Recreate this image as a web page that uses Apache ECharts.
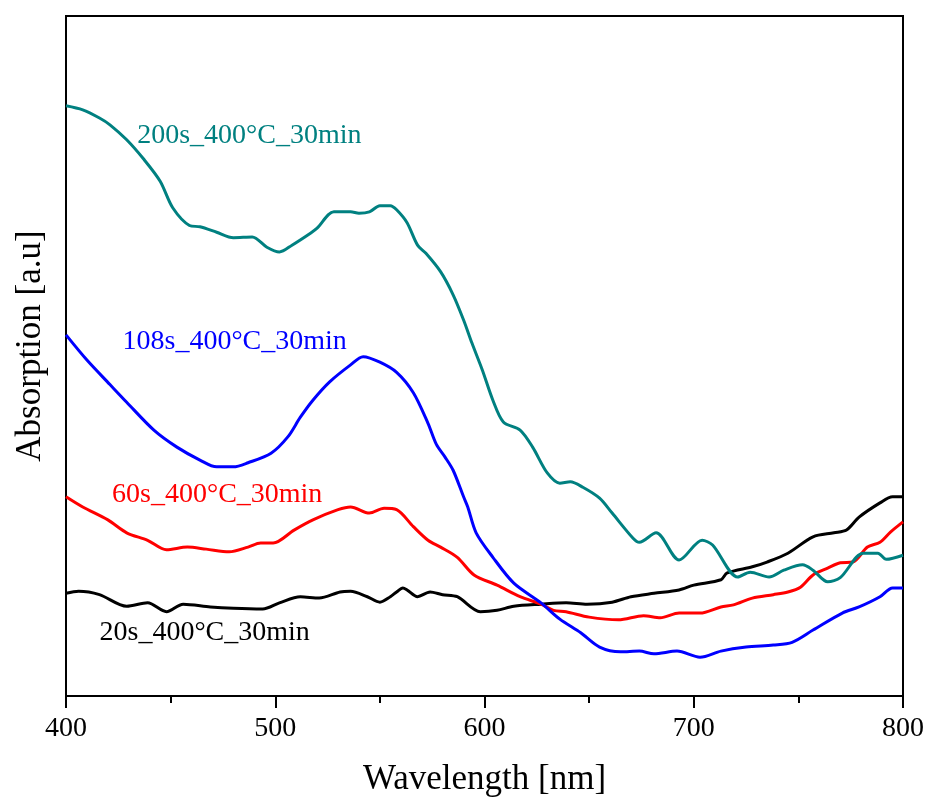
<!DOCTYPE html>
<html>
<head>
<meta charset="utf-8">
<script src="https://cdn.jsdelivr.net/npm/echarts@6/dist/echarts.min.js"></script>
<style>html,body{margin:0;padding:0;background:#fff;}#c{width:928px;height:805px;}</style>
</head>
<body>
<div id="c"></div>
<script>
// Wavelength (nm) and absorption (a.u.) pairs
var s200 = [[400,0.868],[408,0.862],[416,0.850],[421,0.840],[429,0.818],[437,0.790],[445,0.757],[451,0.718],[459,0.692],[464,0.690],[472,0.682],[480,0.674],[489,0.675],[496,0.660],[502,0.653],[508,0.663],[517,0.681],[520,0.688],[528,0.712],[536,0.712],[540,0.710],[545,0.712],[550,0.721],[555,0.721],[558,0.715],[563,0.696],[568,0.663],[572,0.651],[579,0.624],[585,0.590],[590,0.553],[594,0.519],[599,0.479],[604,0.435],[609,0.403],[617,0.391],[623,0.366],[630,0.328],[636,0.313],[641,0.315],[647,0.307],[655,0.291],[661,0.269],[671,0.232],[674,0.226],[682,0.240],[693,0.200],[704,0.229],[709,0.222],[721,0.175],[727,0.182],[736,0.175],[743,0.185],[752,0.193],[757,0.185],[764,0.168],[770,0.174],[781,0.210],[788,0.210],[792,0.201],[800,0.207]];
var s108 = [[400,0.531],[410,0.494],[421,0.458],[429,0.432],[442,0.391],[453,0.366],[464,0.347],[472,0.337],[480,0.337],[487,0.343],[498,0.357],[506,0.381],[512,0.410],[518,0.435],[526,0.462],[536,0.487],[542,0.499],[550,0.491],[558,0.476],[566,0.446],[573,0.401],[577,0.370],[581,0.352],[585,0.332],[590,0.293],[592,0.278],[596,0.240],[604,0.204],[614,0.166],[627,0.137],[636,0.113],[646,0.093],[655,0.072],[665,0.065],[674,0.066],[681,0.062],[692,0.066],[703,0.057],[713,0.066],[725,0.072],[738,0.075],[747,0.079],[757,0.097],[771,0.122],[779,0.131],[789,0.146],[795,0.159],[800,0.159]];
var s60 = [[400,0.293],[408,0.278],[420,0.259],[429,0.240],[439,0.229],[448,0.215],[458,0.219],[467,0.216],[478,0.212],[487,0.219],[493,0.225],[499,0.225],[509,0.244],[518,0.259],[530,0.274],[536,0.278],[545,0.269],[552,0.276],[558,0.274],[566,0.249],[573,0.229],[579,0.219],[587,0.204],[595,0.178],[606,0.163],[617,0.146],[627,0.135],[633,0.126],[639,0.124],[650,0.116],[664,0.112],[676,0.118],[684,0.115],[693,0.122],[703,0.122],[713,0.131],[719,0.134],[728,0.144],[738,0.149],[745,0.153],[751,0.160],[757,0.178],[764,0.188],[770,0.196],[776,0.197],[783,0.219],[789,0.226],[794,0.241],[800,0.256]];
var s20 = [[400,0.151],[406,0.154],[416,0.149],[429,0.132],[439,0.137],[448,0.124],[456,0.135],[469,0.131],[480,0.129],[494,0.128],[502,0.137],[512,0.146],[521,0.144],[531,0.153],[536,0.154],[544,0.146],[550,0.138],[555,0.146],[558,0.153],[561,0.159],[563,0.156],[568,0.146],[574,0.153],[580,0.149],[587,0.146],[598,0.124],[606,0.126],[614,0.132],[627,0.135],[639,0.137],[649,0.135],[661,0.138],[670,0.146],[681,0.151],[693,0.156],[700,0.163],[713,0.171],[716,0.181],[728,0.190],[735,0.197],[745,0.210],[757,0.234],[767,0.240],[773,0.244],[779,0.263],[789,0.284],[795,0.293],[800,0.293]];
var xTicks = [400, 500, 600, 700, 800];
var seriesNames = ['200s_400°C_30min','108s_400°C_30min','60s_400°C_30min','20s_400°C_30min'];
var seriesColors = ['#008080','#0000ff','#ff0000','#000000'];
// label anchors in data coordinates (left edge, vertical centre)
var labelAnchors = [[434,0.824],[427,0.521],[422,0.296],[416,0.093]];

var chart = echarts.init(document.getElementById('c'), null, {renderer:'canvas'});
var font = 'Liberation Serif';
var data = [s200, s108, s60, s20];
var series = data.map(function(d,i){
  return {name: seriesNames[i], type:'line', data:d, showSymbol:false, smooth:0.3,
    lineStyle:{color:seriesColors[i], width:3}, itemStyle:{color:seriesColors[i]}, z: 4-i, animation:false};
});
chart.setOption({
  animation:false,
  backgroundColor:'#fff',
  grid:{left:66, right:25, top:16, bottom:109, show:true, borderColor:'#000', borderWidth:2, backgroundColor:'transparent'},
  xAxis:{type:'value', min:400, max:800, interval:100,
    name:'Wavelength [nm]', nameLocation:'middle', nameGap:66,
    nameTextStyle:{fontFamily:font, fontSize:35, color:'#000'},
    axisLine:{show:true, onZero:false, lineStyle:{color:'#000', width:2}},
    axisTick:{show:true, inside:false, length:12, lineStyle:{color:'#000', width:2}},
    minorTick:{show:true, splitNumber:2, length:7, lineStyle:{color:'#000', width:2}},
    axisLabel:{fontFamily:font, fontSize:28, color:'#000', margin:19,
      customValues: xTicks, formatter: function(v){return String(v);}},
    splitLine:{show:false}},
  yAxis:{type:'value', min:0, max:1,
    name:'Absorption [a.u]', nameLocation:'middle', nameGap:18,
    nameTextStyle:{fontFamily:font, fontSize:35, color:'#000', padding:[0,0,0,20]},
    axisLine:{show:true, lineStyle:{color:'#000', width:2}},
    axisTick:{show:false}, axisLabel:{show:false}, splitLine:{show:false}},
  series: series
});
var g = labelAnchors.map(function(a,i){
  var p = chart.convertToPixel({gridIndex:0}, a);
  return {type:'text', x:p[0], y:p[1], z:10,
    style:{text:seriesNames[i], fill:seriesColors[i], font:'28px "Liberation Serif"', textAlign:'left', textVerticalAlign:'middle'}};
});
chart.setOption({graphic:g});
</script>
</body>
</html>
